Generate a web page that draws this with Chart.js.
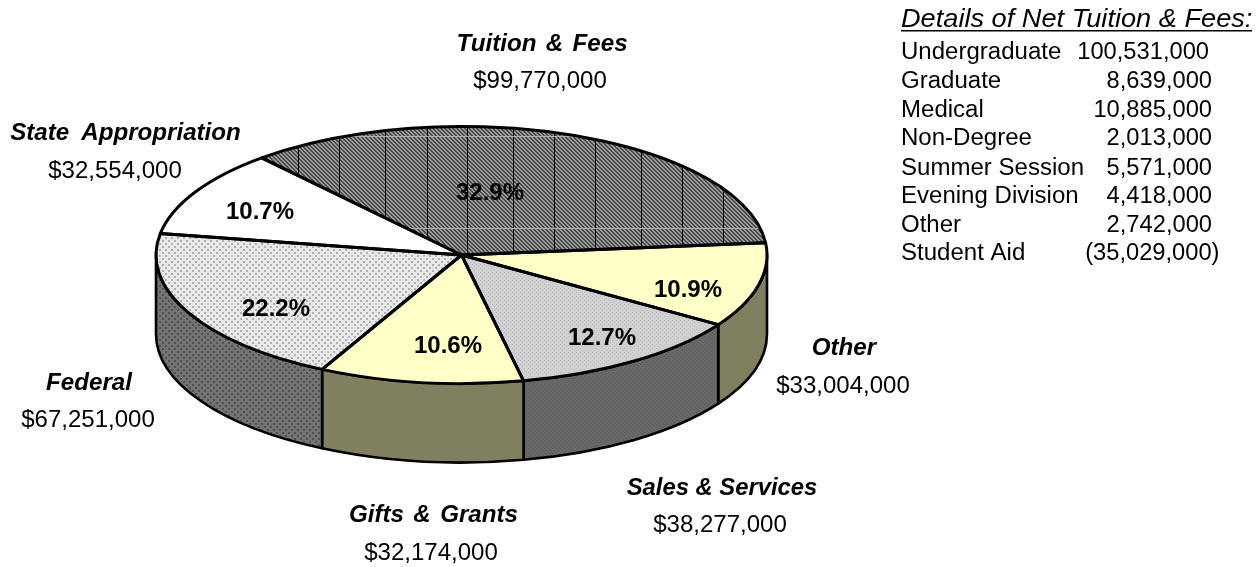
<!DOCTYPE html>
<html><head><meta charset="utf-8">
<script src="https://cdn.jsdelivr.net/npm/chart.js@4"></script>
<style>html,body{margin:0;padding:0;background:#fff}canvas{display:block}</style>
</head><body><canvas id="c" width="1258" height="567"></canvas>
<script>
const categories=["Tuition & Fees","Other","Sales & Services","Gifts & Grants","Federal","State Appropriation"];
const amounts=[99770000,33004000,38277000,32174000,67251000,32554000];
const amountLabels=["$99,770,000","$33,004,000","$38,277,000","$32,174,000","$67,251,000","$32,554,000"];
const percentLabels=["32.9%","10.9%","12.7%","10.6%","22.2%","10.7%"];
const detailTitle="Details of Net Tuition & Fees:";
const detailNames=["Undergraduate","Graduate","Medical","Non-Degree","Summer Session","Evening Division","Other","Student Aid"];
const detailValues=["100,531,000","8,639,000","10,885,000","2,013,000","5,571,000","4,418,000","2,742,000","(35,029,000)"];

// layout (separate from the data)
const FONT='"Liberation Sans", Arial, Helvetica, sans-serif';
const rx=305.5, ry=128.5, depth=79;
const nameAt=[[542,51],[844,355],[722,495],[433.5,522],[89,390],[125.5,140]];
const nameGap=[2.5,0,0,2.5,0,5];
const nameScale=[1.05,1.05,1.035,1.05,1.05,1.05];
const amountAt=[[540,88],[843,393],[720,532],[431,560],[88,427],[115,178]];
const percentAt=[[490,200],[688,297],[602,345],[448,353],[276,316],[260,219]];
const detailRight=[1209,1212,1212,1212,1212,1212,1212,1219.5];
const detailBase=[59,88,117,145,175,203,232,260];
const hatchLines=[298,339,385,427,467,513,554,595,641,682,723];
const hatchBands=[136.5,228.5];

function tile(size,paint){const t=document.createElement('canvas');t.width=t.height=size;paint(t.getContext('2d'));return t;}
function blocks(base,dot,cells,size){return p=>{p.fillStyle=base;p.fillRect(0,0,size,size);p.fillStyle=dot;cells.forEach(c=>p.fillRect(c[0],c[1],c[2]||1,c[3]||1));};}
const ctx0=document.getElementById('c').getContext('2d');
const pat=(size,paint)=>ctx0.createPattern(tile(size,paint),'repeat');
const hatch=pat(4,blocks('#9a9a9a','#4a4a4a',[[0,0],[1,0],[1,1],[2,1],[2,2],[3,2],[3,3],[0,3]],4));
const federalTop=pat(6,blocks('#e8e8e8','#b0b0b0',[[0,0,2,2],[3,3,2,2]],6));
const federalWall=pat(6,blocks('#747474','#505050',[[0,0,2,2],[3,3,2,2]],6));
const salesTop=pat(4,blocks('#d0d0d0','#bdbdbd',[[0,0],[2,2]],4));
const salesWall=pat(4,blocks('#686868','#585858',[[0,0],[2,2]],4));
const topFill=[hatch,'#ffffc8',salesTop,'#ffffc8',federalTop,'#ffffff'];
const wallFill=['#666','#808060',salesWall,'#808060',federalWall,'#808080'];

// the pie is seen from above in perspective: screen angles drift slightly from the true ones
function perspective(a){
  const d=((a*180/Math.PI)%360+360)%360;
  const near=(c)=>{let x=Math.abs(d-c);return Math.min(x,360-x);};
  const bump=(c,w,h)=>h*Math.exp(-Math.pow(near(c)/w,2));
  const shift=2+bump(210,45,-7.6)+bump(352,25,1)+bump(115,25,0.8);
  return a+shift*Math.PI/180;
}
function label(ctx,text,x,y,font,align,sx,gap){
  ctx.save();ctx.font=font;ctx.fillStyle='#000';ctx.textAlign='left';ctx.textBaseline='alphabetic';
  ctx.wordSpacing=(gap||0)+'px';
  const w=ctx.measureText(text).width*sx;
  const left=align==='center'?x-w/2:align==='right'?x-w:x;
  ctx.translate(left,y);ctx.scale(sx,1);ctx.fillText(text,0,0);ctx.restore();
}
const pie3d={id:'pie3d',beforeDatasetsDraw(chart){
  const ctx=chart.ctx,arcs=chart.getDatasetMeta(0).data;
  const cx=arcs[0].x,cy=arcs[0].y;
  const ends=arcs.map(e=>[perspective(e.startAngle),perspective(e.endAngle)]);
  ends.forEach(r=>{if(r[1]<r[0])r[1]+=2*Math.PI;});
  ctx.save();ctx.lineJoin='round';
  // side wall: only the front half of the rim shows
  ctx.lineWidth=2.6;ctx.strokeStyle='#000';
  ends.forEach((r,i)=>{
    [[0,Math.PI],[2*Math.PI,3*Math.PI],[-2*Math.PI,-Math.PI]].forEach(w=>{
      const a0=Math.max(r[0],w[0]),a1=Math.min(r[1],w[1]);
      if(a1<=a0)return;
      ctx.beginPath();
      ctx.ellipse(cx,cy,rx,ry,0,a0,a1);
      ctx.ellipse(cx,cy+depth,rx,ry,0,a1,a0,true);
      ctx.closePath();ctx.fillStyle=wallFill[i];ctx.fill();ctx.stroke();
    });
  });
  // top faces
  ends.forEach((r,i)=>{
    ctx.beginPath();ctx.moveTo(cx,cy);ctx.ellipse(cx,cy,rx,ry,0,r[0],r[1]);ctx.closePath();
    ctx.fillStyle=topFill[i];ctx.fill();
    if(i===0){
      ctx.save();ctx.clip();ctx.lineWidth=1;
      ctx.strokeStyle='#000';
      hatchLines.forEach(x=>{ctx.beginPath();ctx.moveTo(x+0.5,cy-ry);ctx.lineTo(x+0.5,cy);ctx.stroke();});
      ctx.strokeStyle='#b0b0b0';
      hatchBands.forEach(y=>{ctx.beginPath();ctx.moveTo(cx-rx,y);ctx.lineTo(cx+rx,y);ctx.stroke();});
      ctx.restore();
    }
  });
  ctx.lineWidth=3;ctx.strokeStyle='#000';
  ends.forEach(r=>{ctx.beginPath();ctx.moveTo(cx,cy);ctx.ellipse(cx,cy,rx,ry,0,r[0],r[1]);ctx.closePath();ctx.stroke();});
  ctx.restore();
  return false;
},afterDraw(chart){
  const ctx=chart.ctx,S=1.045;
  const boldItalic='italic bold 23px '+FONT,plain='23px '+FONT;
  categories.forEach((n,i)=>{
    label(ctx,n,nameAt[i][0],nameAt[i][1],boldItalic,'center',nameScale[i],nameGap[i]);
    label(ctx,amountLabels[i],amountAt[i][0],amountAt[i][1],plain,'center',S);
    label(ctx,percentLabels[i],percentAt[i][0],percentAt[i][1],'bold 23px '+FONT,'center',S);
  });
  label(ctx,detailTitle,901,27,'italic 25px '+FONT,'left',1.087);
  ctx.fillStyle='#000';ctx.fillRect(901,30,351,1.5);
  detailNames.forEach((n,i)=>{
    label(ctx,n,901,detailBase[i],plain,'left',S);
    label(ctx,detailValues[i],detailRight[i],detailBase[i],plain,'right',1.03);
  });
}};
new Chart(document.getElementById('c'),{
  type:'pie',
  data:{labels:categories,datasets:[{data:amounts,borderWidth:0}]},
  options:{responsive:false,animation:false,rotation:-37,
    layout:{padding:{left:0,top:0,right:335,bottom:57}},
    plugins:{legend:{display:false},tooltip:{enabled:false}},
    events:[]},
  plugins:[pie3d]
});
</script></body></html>
